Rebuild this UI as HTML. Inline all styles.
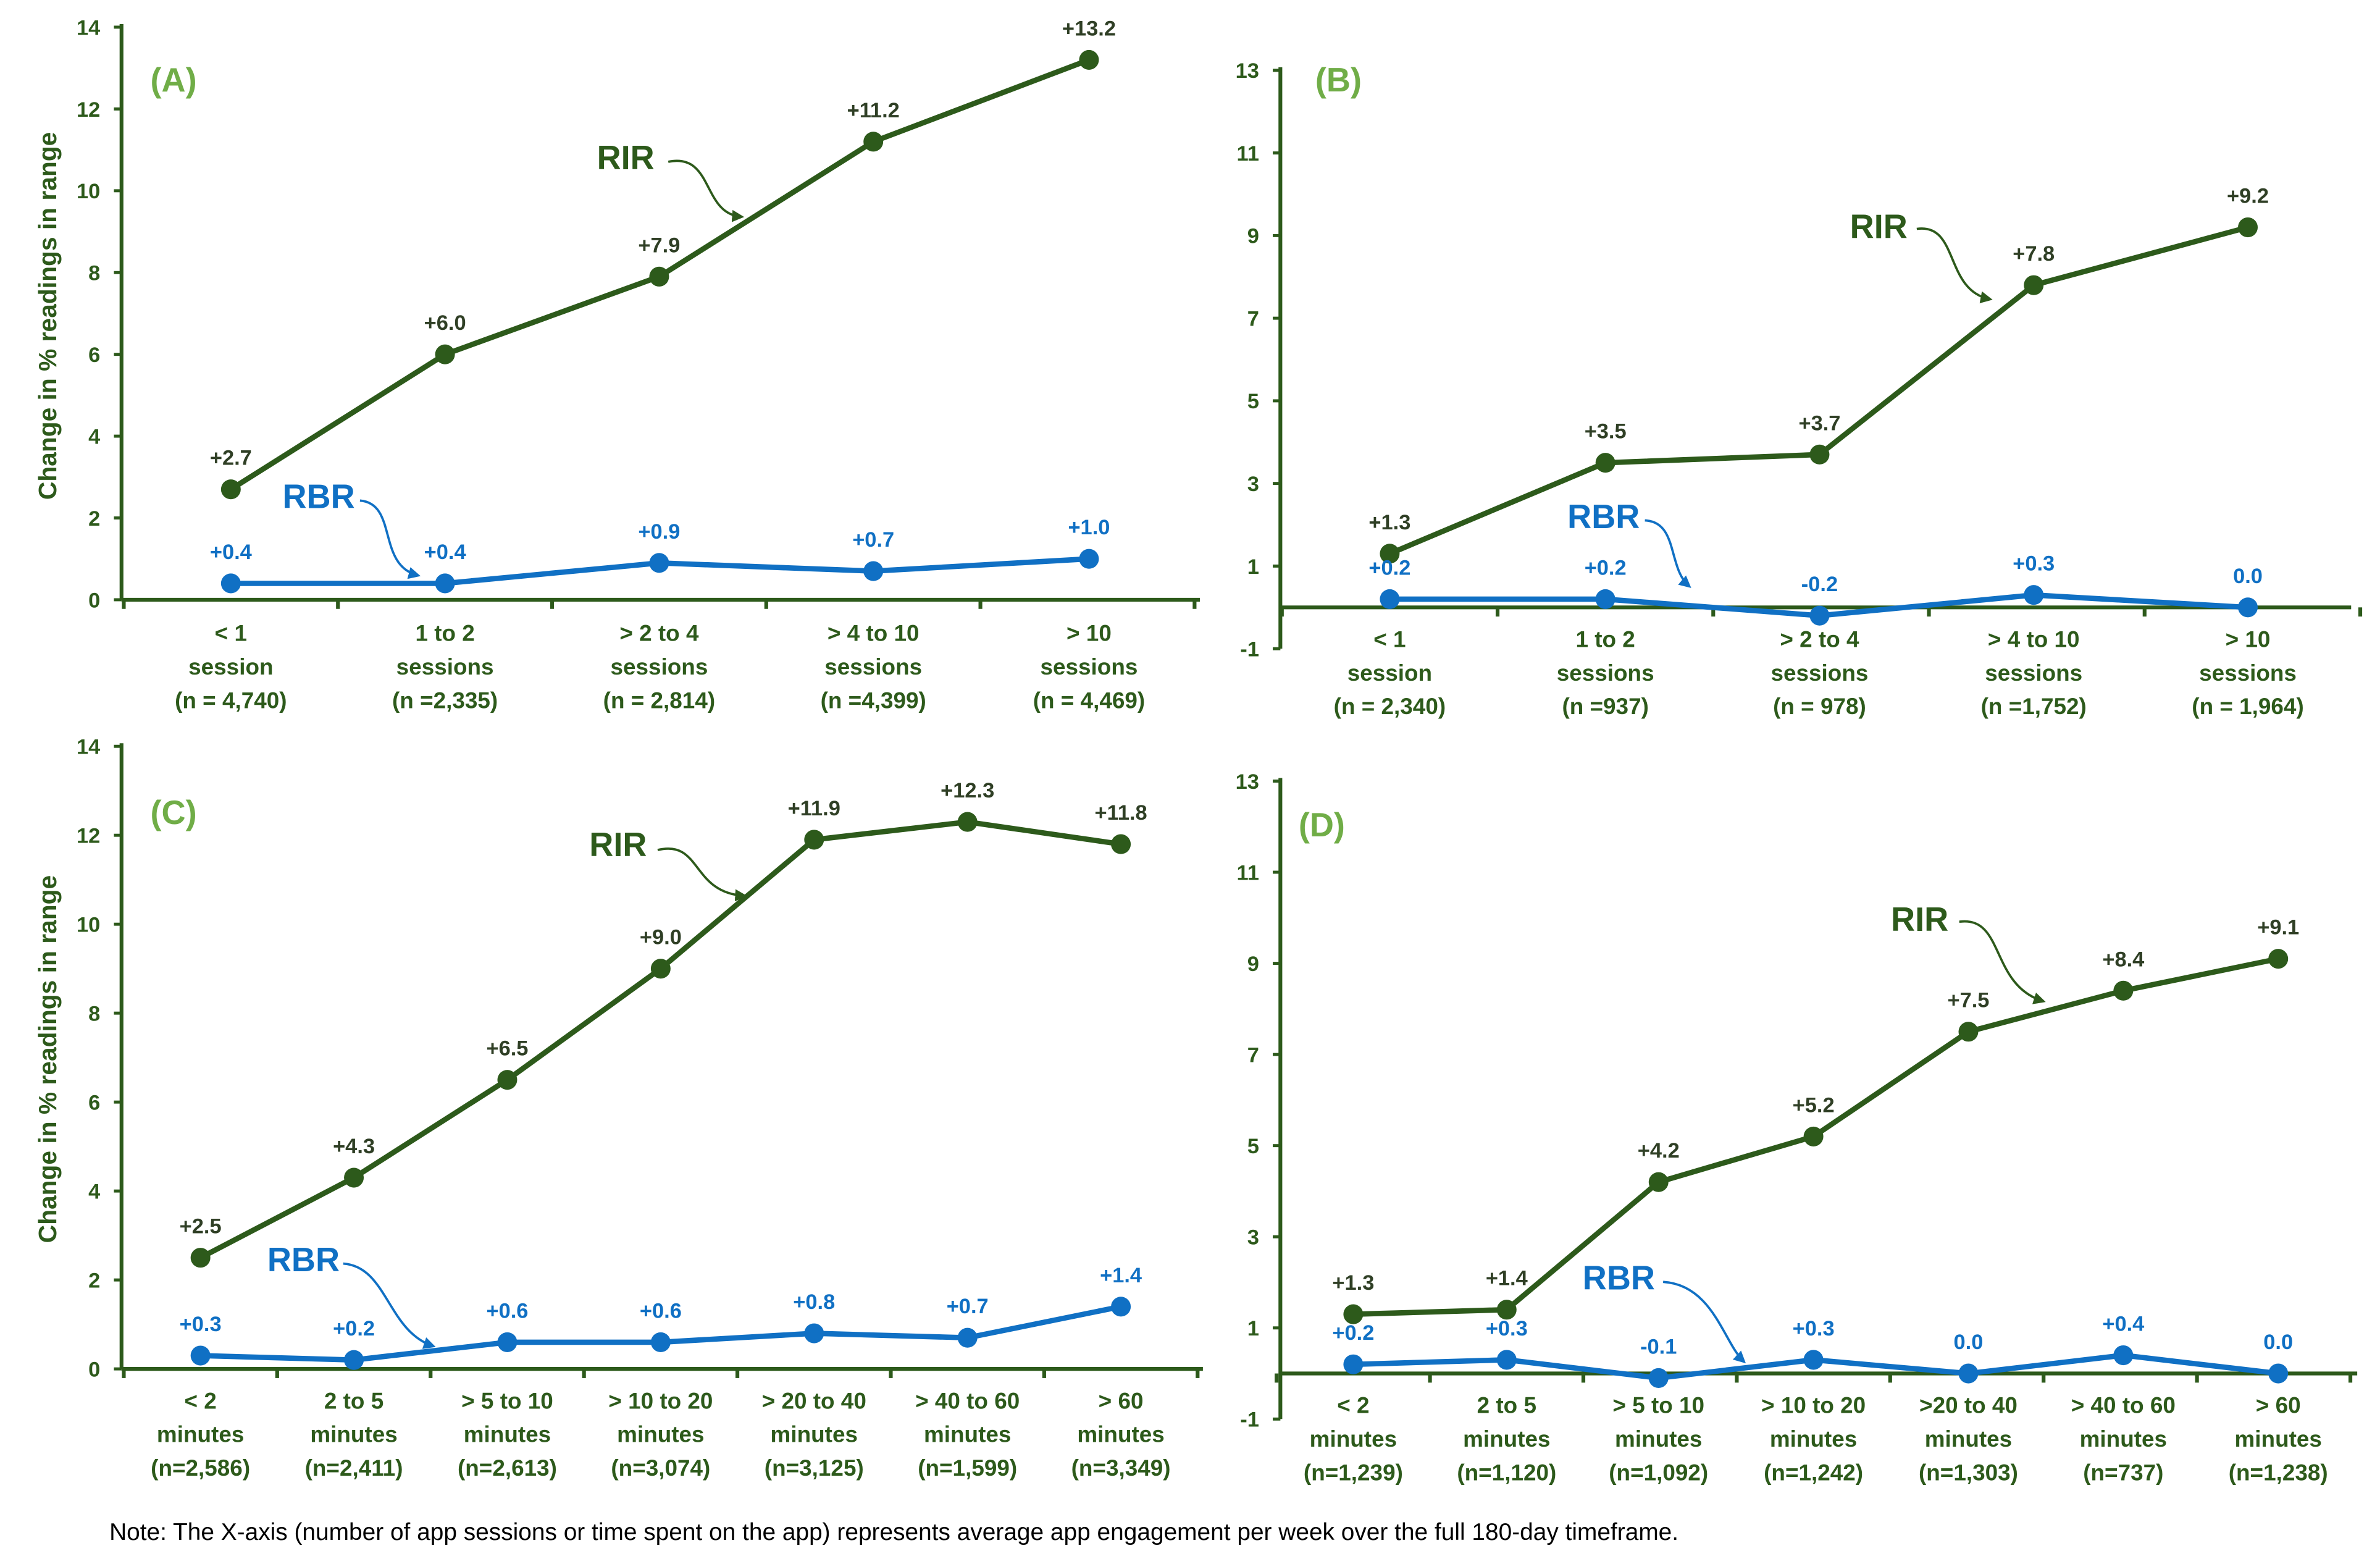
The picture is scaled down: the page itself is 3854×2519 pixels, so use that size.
<!DOCTYPE html>
<html><head><meta charset="utf-8"><style>
html,body{margin:0;padding:0;background:#fff}
svg{display:block}
text{font-family:"Liberation Sans Narrow","Liberation Sans",sans-serif;font-weight:bold}
</style></head><body>
<svg id="s" width="3854" height="2519" viewBox="0 0 1567 1019.6" preserveAspectRatio="none" xmlns="http://www.w3.org/2000/svg">
<defs>
<marker id="ag" markerWidth="8" markerHeight="8" refX="6" refY="4" orient="auto" markerUnits="userSpaceOnUse"><path d="M0,0 L8,4 L0,8 z" fill="#2d5a1b"/></marker>
<marker id="ab" markerWidth="8" markerHeight="8" refX="6" refY="4" orient="auto" markerUnits="userSpaceOnUse"><path d="M0,0 L8,4 L0,8 z" fill="#1070c4"/></marker>
</defs>
<text x="72" y="1009" font-size="15.8" style="font-weight:normal;font-family:'Liberation Sans',sans-serif" fill="#000">Note: The X-axis (number of app sessions or time spent on the app) represents average app engagement per week over the full 180-day timeframe.</text>
</svg>
<script>
const S=document.getElementById('s');const NS='http://www.w3.org/2000/svg';
function el(t,a,txt){const e=document.createElementNS(NS,t);for(const k in a)e.setAttribute(k,a[k]);if(txt!==undefined)e.textContent=txt;S.appendChild(e);return e;}
const G='#2d5a1b',B='#1070c4',LG='#70ad47';
function panel(p){
 const yv=v=>p.y0-v*p.u;
 el('line',{x1:p.ax,y1:yv(p.ymax)-2,x2:p.ax,y2:yv(p.ymin),stroke:G,'stroke-width':2.5});
 el('line',{x1:p.ax,y1:yv(0),x2:p.xend,y2:yv(0),stroke:G,'stroke-width':2.5});
 for(let v=p.ymin;v<=p.ymax;v+=p.step){
  el('line',{x1:p.ax-5,y1:yv(v),x2:p.ax,y2:yv(v),stroke:G,'stroke-width':2});
  el('text',{x:p.ax-14,y:yv(v)+5,'font-size':14,fill:G,'text-anchor':'end'},String(v));
 }
 const sp=p.xs[1]-p.xs[0];
 for(let i=0;i<=p.xs.length;i++){const x=p.xs[0]-sp/2+i*sp;
  el('line',{x1:x,y1:yv(0),x2:x,y2:yv(0)+6,stroke:G,'stroke-width':2.5});}
 p.cats.forEach((c,i)=>c.forEach((l,j)=>el('text',{x:p.xs[i],y:p.ly+j*22,'font-size':15,fill:G,'text-anchor':'middle'},l)));
 [[p.rir,G,'#2f3f25'],[p.rbr,B,B]].forEach(([d,col,lc],si)=>{
  el('polyline',{points:d.map((v,i)=>p.xs[i]+','+yv(v)).join(' '),fill:'none',stroke:col,'stroke-width':3.5});
  d.forEach((v,i)=>{el('circle',{cx:p.xs[i],cy:yv(v),r:6.5,fill:col});
   const s=(v>0?'+':'')+v.toFixed(1);
   el('text',{x:p.xs[i],y:yv(v)-16,'font-size':14,fill:lc,'text-anchor':'middle'},v===0?'0.0':s);});
 });
 el('text',{x:p.lx,y:p.lyL,'font-size':22,fill:LG},p.L);
 el('text',{x:p.rirT[0],y:p.rirT[1],'font-size':22,fill:G},'RIR');
 el('path',{d:p.rirA,fill:'none',stroke:G,'stroke-width':1.5,'marker-end':'url(#ag)'});
 el('text',{x:p.rbrT[0],y:p.rbrT[1],'font-size':22,fill:B},'RBR');
 el('path',{d:p.rbrA,fill:'none',stroke:B,'stroke-width':1.5,'marker-end':'url(#ab)'});
 if(p.title){el('text',{x:0,y:0,'font-size':16.5,fill:G,transform:`translate(${p.title[0]},${p.title[1]}) rotate(-90)`,'text-anchor':'middle',style:"font-family:'Liberation Sans',sans-serif"},'Change in % readings in range');}
}
panel({ax:80,y0:393,u:26.8,ymin:0,ymax:14,step:2,xend:790,xs:[152,293,434,575,717],ly:420,
 cats:[['< 1','session','(n = 4,740)'],['1 to 2','sessions','(n =2,335)'],['> 2 to 4','sessions','(n = 2,814)'],['> 4 to 10','sessions','(n =4,399)'],['> 10','sessions','(n = 4,469)']],
 rir:[2.7,6.0,7.9,11.2,13.2],rbr:[0.4,0.4,0.9,0.7,1.0],L:'(A)',lx:99,lyL:60,
 rirT:[393,111],rirA:'M440,106 C470,100 462,140 488,142',rbrT:[186,333],rbrA:'M237,328 C262,330 248,370 275,377',title:[37,207]});
panel({ax:843,y0:398,u:27.07,ymin:-1,ymax:13,step:2,xend:1548,xs:[915,1057,1198,1339,1480],ly:424,
 cats:[['< 1','session','(n = 2,340)'],['1 to 2','sessions','(n =937)'],['> 2 to 4','sessions','(n = 978)'],['> 4 to 10','sessions','(n =1,752)'],['> 10','sessions','(n = 1,964)']],
 rir:[1.3,3.5,3.7,7.8,9.2],rbr:[0.2,0.2,-0.2,0.3,0.0],L:'(B)',lx:866,lyL:60,
 rirT:[1218,156],rirA:'M1262,150 C1290,146 1280,190 1310,196',rbrT:[1032,346],rbrA:'M1083,341 C1105,342 1098,372 1112,384'});
panel({ax:80,y0:897,u:29.14,ymin:0,ymax:14,step:2,xend:792,xs:[132,233,334,435,536,637,738],ly:923,
 cats:[['< 2','minutes','(n=2,586)'],['2 to 5','minutes','(n=2,411)'],['> 5 to 10','minutes','(n=2,613)'],['> 10 to 20','minutes','(n=3,074)'],['> 20 to 40','minutes','(n=3,125)'],['> 40 to 60','minutes','(n=1,599)'],['> 60','minutes','(n=3,349)']],
 rir:[2.5,4.3,6.5,9.0,11.9,12.3,11.8],rbr:[0.3,0.2,0.6,0.6,0.8,0.7,1.4],L:'(C)',lx:99,lyL:540,
 rirT:[388,561],rirA:'M433,557 C462,550 455,585 490,587',rbrT:[176,833],rbrA:'M226,828 C255,830 255,872 285,882',title:[37,694]});
panel({ax:843,y0:900,u:29.86,ymin:-1,ymax:13,step:2,xend:1552,xs:[891,992,1092,1194,1296,1398,1500],ly:926,
 cats:[['< 2','minutes','(n=1,239)'],['2 to 5','minutes','(n=1,120)'],['> 5 to 10','minutes','(n=1,092)'],['> 10 to 20','minutes','(n=1,242)'],['>20 to 40','minutes','(n=1,303)'],['> 40 to 60','minutes','(n=737)'],['> 60','minutes','(n=1,238)']],
 rir:[1.3,1.4,4.2,5.2,7.5,8.4,9.1],rbr:[0.2,0.3,-0.1,0.3,0.0,0.4,0.0],L:'(D)',lx:855,lyL:548,
 rirT:[1245,610],rirA:'M1290,604 C1320,600 1310,645 1345,656',rbrT:[1042,845],rbrA:'M1095,840 C1128,842 1135,880 1148,892'});
</script>
</body></html>
